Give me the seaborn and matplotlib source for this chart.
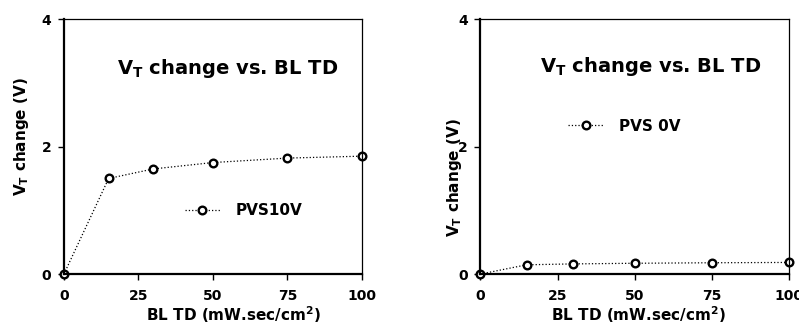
import pandas as pd
import matplotlib
matplotlib.use("Agg")
import matplotlib.pyplot as plt
import seaborn as sns

# BL TD dose (mW.sec/cm2) and threshold voltage shift (V)
dose = [0, 15, 30, 50, 75, 100]
vt_pvs10 = [0.0, 1.50, 1.65, 1.75, 1.82, 1.85]
vt_pvs0 = [0.0, 0.146, 0.16, 0.17, 0.178, 0.183]
xticks = [0, 25, 50, 75, 100]
yticks = [0, 2, 4]

sns.set_style("ticks", {"axes.edgecolor": "black", "text.color": "black",
                        "axes.labelcolor": "black", "xtick.color": "black",
                        "ytick.color": "black"})
plt.rcParams["font.family"] = ["DejaVu Sans"]
plt.rcParams["font.weight"] = "bold"
plt.rcParams["mathtext.fontset"] = "custom"
plt.rcParams["mathtext.rm"] = "DejaVu Sans:bold"
plt.rcParams["mathtext.it"] = "DejaVu Sans:bold"
plt.rcParams["mathtext.bf"] = "DejaVu Sans:bold"

fig = plt.figure(figsize=(7.99, 3.24), dpi=100)
ax1 = fig.add_axes([0.080, 0.154, 0.373, 0.787])
ax2 = fig.add_axes([0.601, 0.154, 0.387, 0.787])

# (axes, values, legend label, legend anchor, title pos, ylabel coords, xlabel x)
panels = [
    (ax1, vt_pvs10, "PVS10V", (40.6, 0.99), (55, 3.23), (-0.11, 0.539), 0.57),
    (ax2, vt_pvs0, "PVS 0V", (28.5, 2.32), (55, 3.26), (-0.052, 0.378), 0.512),
]

for ax, vals, name, leg_xy, title_xy, ylab_xy, xlab_x in panels:
    df = pd.DataFrame({"dose": dose, "vt": vals})
    sns.lineplot(data=df, x="dose", y="vt", ax=ax, color="black",
                 linestyle=":", linewidth=0.9, marker="o", markersize=5.5,
                 markerfacecolor="white", markeredgecolor="black",
                 markeredgewidth=1.7, label=name, clip_on=False)
    ax.set_xlim(0, 100)
    ax.set_ylim(0, 4)
    ax.set_xticks(xticks)
    ax.set_yticks(yticks)
    ax.tick_params(direction="out", length=4, width=1, labelsize=10, pad=5,
                   colors="black")
    ax.tick_params(axis="x", pad=7)
    for s in ["left", "bottom"]:
        ax.spines[s].set_linewidth(1.6)
    for s in ["top", "right"]:
        ax.spines[s].set_visible(True)
        ax.spines[s].set_linewidth(0.9)
    ax.set_xlabel("BL TD (mW.sec/cm$^{2}$)", fontsize=11, fontweight="bold")
    ax.set_ylabel("V$_{T}$ change (V)", fontsize=11, fontweight="bold")
    ax.xaxis.set_label_coords(xlab_x, -0.117)
    ax.yaxis.set_label_coords(*ylab_xy)
    ax.text(title_xy[0], title_xy[1], "V$_{T}$ change vs. BL TD", fontsize=14,
            fontweight="bold", ha="center", va="center")
    ax.legend(loc="center left", bbox_to_anchor=leg_xy, bbox_transform=ax.transData,
              frameon=False, handlelength=2.3, handletextpad=1.0,
              borderpad=0, borderaxespad=0,
              prop={"weight": "bold", "size": 11})

fig.savefig("out.png", dpi=100)
